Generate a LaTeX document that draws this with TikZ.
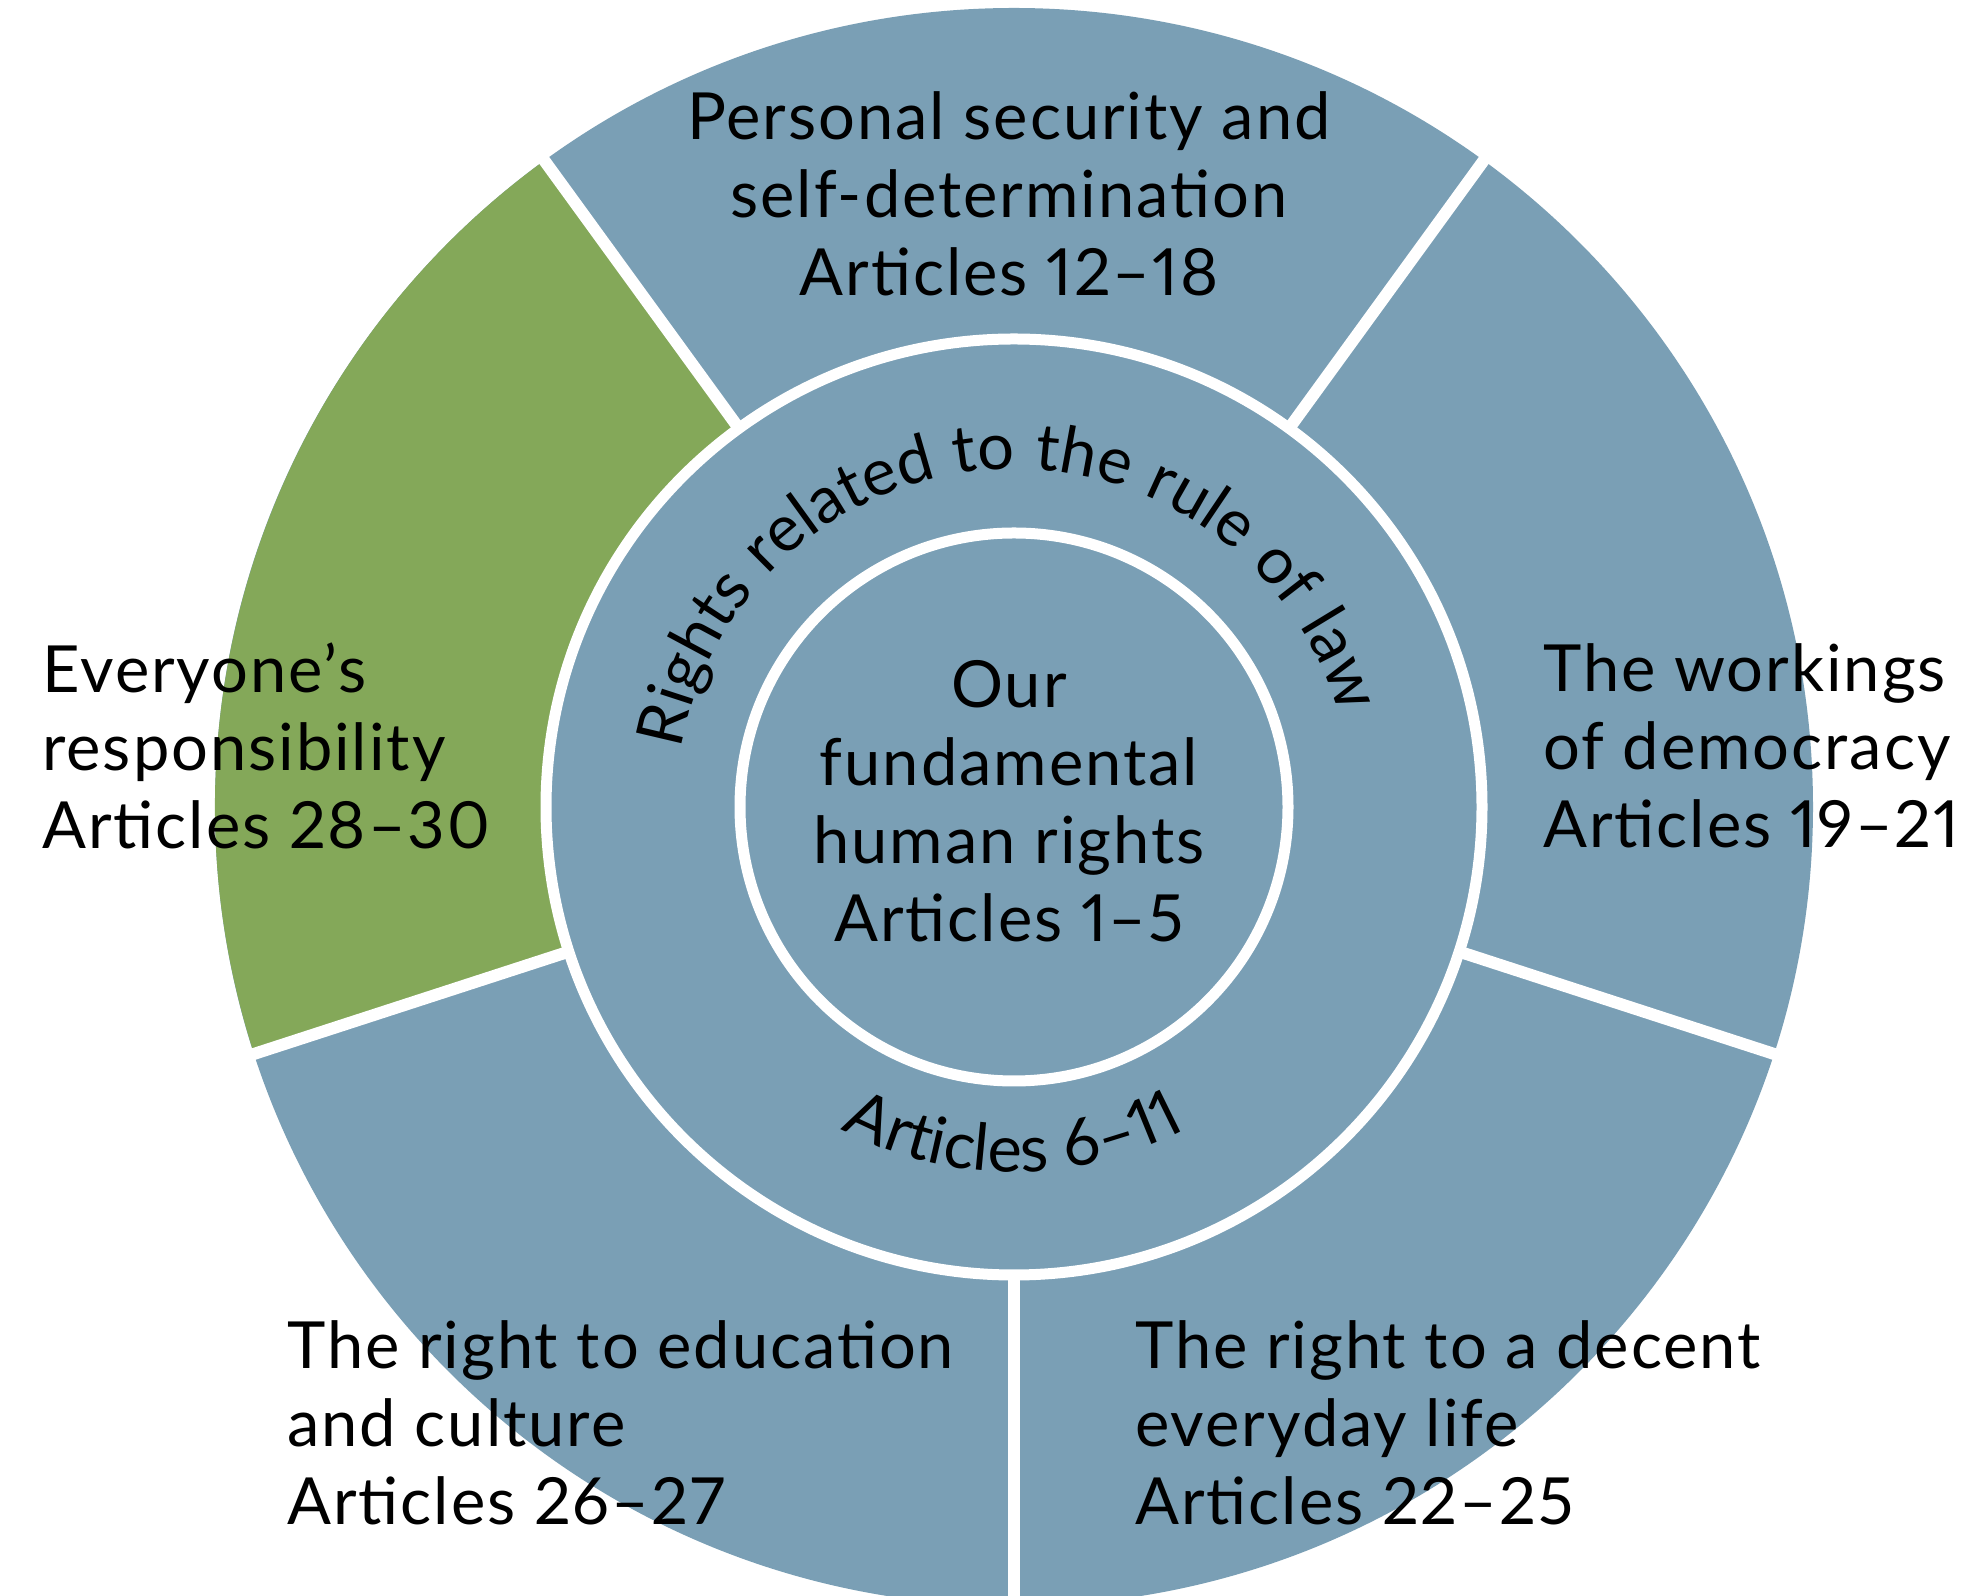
\documentclass[tikz,border=0pt]{standalone}
\usepackage{fontspec}
\setmainfont{Lato}[LetterSpace=3, Numbers=Proportional]
\usetikzlibrary{decorations.text}
\definecolor{segblue}{RGB}{122,159,181}
\definecolor{seggreen}{RGB}{132,168,89}
\newcommand\lblfont{\fontsize{32.5}{39}\selectfont}
\begin{document}
\begin{tikzpicture}[x=0.5pt,y=0.5pt,
  lbl/.style={inner sep=0pt, font=\lblfont},
  gap/.style={white, line width=6pt},
  ring/.style={white, line width=5.5pt}]
\useasboundingbox (0,0) rectangle (1977,1596);
\coordinate (C) at (1014,789);
% outer ring
\fill[segblue] (C) circle[radius=799];
\fill[seggreen] (C) -- ++(126:799) arc[start angle=126, end angle=198, radius=799] -- cycle;
\foreach \a in {54,126,198,270,342}
  \draw[gap] (C) ++(\a:440) -- ++(\a:420);
% middle ring and core
\fill[segblue] (C) circle[radius=468];
\draw[ring] (C) circle[radius=468];
\draw[ring] (C) circle[radius=274];
% labels
\node[lbl, align=center] (top) at (1009,1402) {Personal security and\\self-determination\\Articles 12–18};
\node[lbl, align=left, anchor=west] (left) at (42,850) {Everyone’s\\responsibility\\Articles 28–30};
\node[lbl, align=left, anchor=west] (right) at (1543,850) {The workings\\of democracy\\Articles 19–21};
\node[lbl, align=left, anchor=west] (botleft) at (287,173) {The right to education\\and culture\\Articles 26–27};
\node[lbl, align=left, anchor=west] (botright) at (1135,173) {The right to a decent\\everyday life\\Articles 22–25};
\node[lbl, align=center] (core) at (1009,795) {Our\\fundamental\\human rights\\Articles 1–5};
% curved labels
\path[decorate, decoration={text along path, text align=center,
  text={|\lblfont|Rights related to the rule of law}}]
  (C) ++(183:338) arc[start angle=183, end angle=3, radius=338];
\path[decorate, decoration={text along path, text align=center,
  text={|\lblfont|Articles 6–11}}]
  (C) ++(200:365) arc[start angle=200, end angle=340, radius=365];
\end{tikzpicture}
\end{document}
